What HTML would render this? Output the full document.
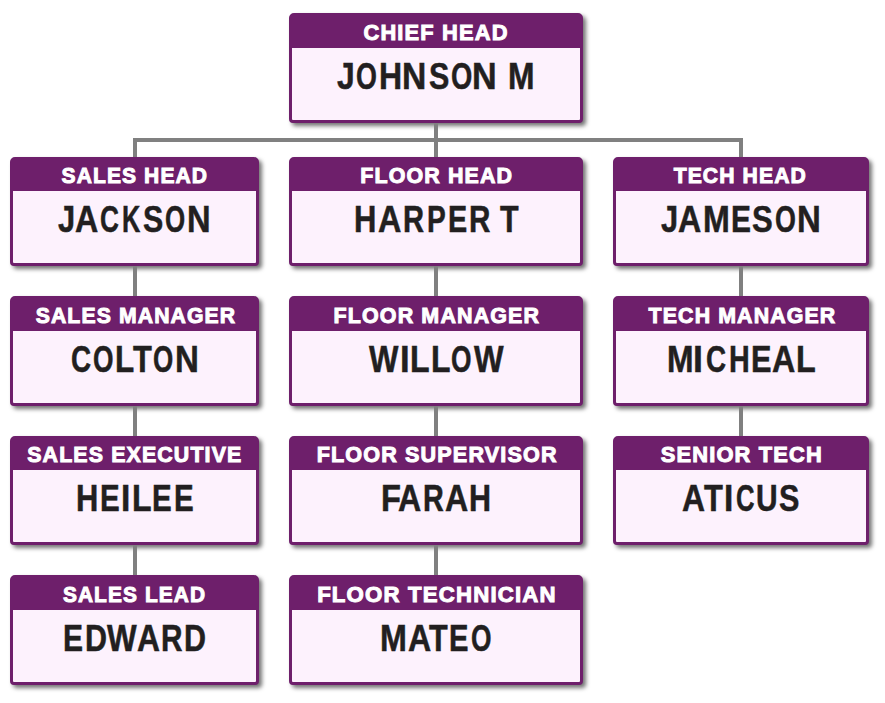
<!DOCTYPE html><html><head><meta charset="utf-8"><style>
html,body{margin:0;padding:0;background:#fff;}
body{width:885px;height:703px;position:relative;overflow:hidden;}
.b{position:absolute;box-sizing:border-box;border:3px solid #6e1f6b;background:#fdf2fd;border-radius:5px 5px 4px 4px;box-shadow:3px 3px 4px rgba(0,0,0,0.55);}
.h{position:absolute;left:0;right:0;top:0;height:32px;background:#6e1f6b;}
.t{position:absolute;left:-100px;right:-100px;text-align:center;white-space:nowrap;font-family:"Liberation Sans",sans-serif;font-weight:bold;}
.t span{display:inline-block;transform-origin:50% 50%;}
.ht{top:5.5px;font-size:22.6px;line-height:22.6px;color:#fff;letter-spacing:1.2px;-webkit-text-stroke:1.0px #fff;}
.nt{top:43.2px;font-size:36.0px;line-height:36.0px;color:#221f20;}
.ln{position:absolute;background:#808080;}
.g{position:absolute;font-family:'Liberation Sans',sans-serif;font-weight:bold;font-size:36.0px;line-height:36.0px;color:#221f20;transform-origin:0 0;white-space:pre;-webkit-text-stroke:0.5px #221f20;}</style></head><body><div class="b" style="left:289px;top:13px;width:294px;height:110px"><div class="h" style="height:31.5px"></div><div class="t ht" style="margin-left:0.5px;margin-top:0px"><span style="transform:scaleX(0.9666)">CHIEF HEAD</span></div></div><div class="b" style="left:10px;top:157px;width:249px;height:109px"><div class="h" style="height:30.799999999999997px"></div><div class="t ht" style="margin-left:1.5px;margin-top:-0.5px"><span style="transform:scaleX(0.9302)">SALES HEAD</span></div></div><div class="b" style="left:289px;top:157px;width:294px;height:109px"><div class="h" style="height:30.799999999999997px"></div><div class="t ht" style="margin-left:0.5px;margin-top:-0.5px"><span style="transform:scaleX(0.9478)">FLOOR HEAD</span></div></div><div class="b" style="left:613px;top:157px;width:256px;height:109px"><div class="h" style="height:30.799999999999997px"></div><div class="t ht" style="margin-left:-0.5px;margin-top:-0.5px"><span style="transform:scaleX(0.9351)">TECH HEAD</span></div></div><div class="b" style="left:10px;top:296px;width:249px;height:110px"><div class="h" style="height:31.5px"></div><div class="t ht" style="margin-left:2.5px;margin-top:0px"><span style="transform:scaleX(0.938)">SALES MANAGER</span></div></div><div class="b" style="left:289px;top:296px;width:294px;height:110px"><div class="h" style="height:31.5px"></div><div class="t ht" style="margin-left:1.0px;margin-top:0px"><span style="transform:scaleX(0.9493)">FLOOR MANAGER</span></div></div><div class="b" style="left:613px;top:296px;width:256px;height:110px"><div class="h" style="height:31.5px"></div><div class="t ht" style="margin-left:2.5px;margin-top:0px"><span style="transform:scaleX(0.944)">TECH MANAGER</span></div></div><div class="b" style="left:10px;top:436px;width:249px;height:109px"><div class="h" style="height:30.5px"></div><div class="t ht" style="margin-left:1.5px;margin-top:-0.5px"><span style="transform:scaleX(0.9453)">SALES EXECUTIVE</span></div></div><div class="b" style="left:289px;top:436px;width:294px;height:109px"><div class="h" style="height:30.5px"></div><div class="t ht" style="margin-left:2.0px;margin-top:-0.5px"><span style="transform:scaleX(0.9554)">FLOOR SUPERVISOR</span></div></div><div class="b" style="left:613px;top:436px;width:256px;height:109px"><div class="h" style="height:30.5px"></div><div class="t ht" style="margin-left:1.0px;margin-top:-0.5px"><span style="transform:scaleX(0.9678)">SENIOR TECH</span></div></div><div class="b" style="left:10px;top:575px;width:249px;height:110px"><div class="h" style="height:31.5px"></div><div class="t ht" style="margin-left:1.0px;margin-top:0px"><span style="transform:scaleX(0.9238)">SALES LEAD</span></div></div><div class="b" style="left:289px;top:575px;width:294px;height:110px"><div class="h" style="height:31.5px"></div><div class="t ht" style="margin-left:1.0px;margin-top:0px"><span style="transform:scaleX(0.9825)">FLOOR TECHNICIAN</span></div></div><span class="g" style="left:337.15px;top:59.2px;transform:scale(0.8835,1)">J</span><span class="g" style="left:356.17px;top:59.2px;transform:scale(0.7459,1)">O</span><span class="g" style="left:378.56px;top:59.2px;transform:scale(0.8883,1)">H</span><span class="g" style="left:401.95px;top:59.2px;transform:scale(0.9348,1)">N</span><span class="g" style="left:428.70px;top:59.2px;transform:scale(0.8457,1)">S</span><span class="g" style="left:450.67px;top:59.2px;transform:scale(0.7600,1)">O</span><span class="g" style="left:472.12px;top:59.2px;transform:scale(0.9487,1)">N</span><span class="g" style="left:507.64px;top:59.2px;transform:scale(0.8841,1)">M</span><span class="g" style="left:58.30px;top:202.2px;transform:scale(0.8562,1)">J</span><span class="g" style="left:75.24px;top:202.2px;transform:scale(0.8945,1)">A</span><span class="g" style="left:100.06px;top:202.2px;transform:scale(0.7278,1)">C</span><span class="g" style="left:122.18px;top:202.2px;transform:scale(0.7040,1)">K</span><span class="g" style="left:142.88px;top:202.2px;transform:scale(0.8430,1)">S</span><span class="g" style="left:165.18px;top:202.2px;transform:scale(0.7200,1)">O</span><span class="g" style="left:186.71px;top:202.2px;transform:scale(0.9071,1)">N</span><span class="g" style="left:354.32px;top:202.2px;transform:scale(0.8606,1)">H</span><span class="g" style="left:377.98px;top:202.2px;transform:scale(0.8994,1)">A</span><span class="g" style="left:402.61px;top:202.2px;transform:scale(0.8095,1)">R</span><span class="g" style="left:426.61px;top:202.2px;transform:scale(0.7808,1)">P</span><span class="g" style="left:447.81px;top:202.2px;transform:scale(0.7989,1)">E</span><span class="g" style="left:468.78px;top:202.2px;transform:scale(0.8223,1)">R</span><span class="g" style="left:500.34px;top:202.2px;transform:scale(0.8468,1)">T</span><span class="g" style="left:661.40px;top:202.2px;transform:scale(0.8562,1)">J</span><span class="g" style="left:678.44px;top:202.2px;transform:scale(0.8945,1)">A</span><span class="g" style="left:702.60px;top:202.2px;transform:scale(0.8935,1)">M</span><span class="g" style="left:731.06px;top:202.2px;transform:scale(0.8308,1)">E</span><span class="g" style="left:752.41px;top:202.2px;transform:scale(0.8620,1)">S</span><span class="g" style="left:775.17px;top:202.2px;transform:scale(0.7459,1)">O</span><span class="g" style="left:796.55px;top:202.2px;transform:scale(0.9155,1)">N</span><span class="g" style="left:71.36px;top:342.2px;transform:scale(0.7727,1)">C</span><span class="g" style="left:93.37px;top:342.2px;transform:scale(0.7318,1)">O</span><span class="g" style="left:115.23px;top:342.2px;transform:scale(0.8735,1)">L</span><span class="g" style="left:133.10px;top:342.2px;transform:scale(0.8551,1)">T</span><span class="g" style="left:153.10px;top:342.2px;transform:scale(0.7224,1)">O</span><span class="g" style="left:174.67px;top:342.2px;transform:scale(0.9182,1)">N</span><span class="g" style="left:369.04px;top:342.2px;transform:scale(0.8658,1)">W</span><span class="g" style="left:399.53px;top:342.2px;transform:scale(0.9624,1)">I</span><span class="g" style="left:410.29px;top:342.2px;transform:scale(0.8893,1)">L</span><span class="g" style="left:431.28px;top:342.2px;transform:scale(0.8861,1)">L</span><span class="g" style="left:451.17px;top:342.2px;transform:scale(0.7318,1)">O</span><span class="g" style="left:473.50px;top:342.2px;transform:scale(0.8710,1)">W</span><span class="g" style="left:666.84px;top:342.2px;transform:scale(0.8841,1)">M</span><span class="g" style="left:693.43px;top:342.2px;transform:scale(0.9940,1)">I</span><span class="g" style="left:705.56px;top:342.2px;transform:scale(0.7727,1)">C</span><span class="g" style="left:728.59px;top:342.2px;transform:scale(0.7969,1)">H</span><span class="g" style="left:750.57px;top:342.2px;transform:scale(0.8540,1)">E</span><span class="g" style="left:771.54px;top:342.2px;transform:scale(0.8945,1)">A</span><span class="g" style="left:796.02px;top:342.2px;transform:scale(0.8956,1)">L</span><span class="g" style="left:75.70px;top:481.2px;transform:scale(0.8579,1)">H</span><span class="g" style="left:100.30px;top:481.2px;transform:scale(0.8192,1)">E</span><span class="g" style="left:121.34px;top:481.2px;transform:scale(0.9307,1)">I</span><span class="g" style="left:131.89px;top:481.2px;transform:scale(0.8893,1)">L</span><span class="g" style="left:152.20px;top:481.2px;transform:scale(0.8192,1)">E</span><span class="g" style="left:174.30px;top:481.2px;transform:scale(0.8192,1)">E</span><span class="g" style="left:380.74px;top:481.2px;transform:scale(0.9066,1)">F</span><span class="g" style="left:398.42px;top:481.2px;transform:scale(0.8921,1)">A</span><span class="g" style="left:423.25px;top:481.2px;transform:scale(0.7992,1)">R</span><span class="g" style="left:444.62px;top:481.2px;transform:scale(0.8921,1)">A</span><span class="g" style="left:468.75px;top:481.2px;transform:scale(0.8468,1)">H</span><span class="g" style="left:682.47px;top:481.2px;transform:scale(0.8848,1)">A</span><span class="g" style="left:704.01px;top:481.2px;transform:scale(0.8579,1)">T</span><span class="g" style="left:723.64px;top:481.2px;transform:scale(0.9307,1)">I</span><span class="g" style="left:735.66px;top:481.2px;transform:scale(0.7129,1)">C</span><span class="g" style="left:755.51px;top:481.2px;transform:scale(0.8312,1)">U</span><span class="g" style="left:778.82px;top:481.2px;transform:scale(0.8484,1)">S</span><span class="g" style="left:63.37px;top:621.2px;transform:scale(0.8337,1)">E</span><span class="g" style="left:85.27px;top:621.2px;transform:scale(0.8463,1)">D</span><span class="g" style="left:107.22px;top:621.2px;transform:scale(0.8728,1)">W</span><span class="g" style="left:136.85px;top:621.2px;transform:scale(0.8824,1)">A</span><span class="g" style="left:160.81px;top:621.2px;transform:scale(0.8275,1)">R</span><span class="g" style="left:184.37px;top:621.2px;transform:scale(0.8463,1)">D</span><span class="g" style="left:380.22px;top:621.2px;transform:scale(0.8958,1)">M</span><span class="g" style="left:407.62px;top:621.2px;transform:scale(0.8921,1)">A</span><span class="g" style="left:429.06px;top:621.2px;transform:scale(0.8496,1)">T</span><span class="g" style="left:449.46px;top:621.2px;transform:scale(0.8105,1)">E</span><span class="g" style="left:471.07px;top:621.2px;transform:scale(0.7318,1)">O</span><div class="ln" style="left:434px;top:123px;width:4px;height:15px"></div><div class="ln" style="left:133px;top:138px;width:610px;height:4px"></div><div class="ln" style="left:133px;top:138px;width:4px;height:19px"></div><div class="ln" style="left:434px;top:138px;width:4px;height:19px"></div><div class="ln" style="left:739px;top:138px;width:4px;height:19px"></div><div class="ln" style="left:133px;top:266px;width:4px;height:30px"></div><div class="ln" style="left:133px;top:406px;width:4px;height:30px"></div><div class="ln" style="left:133px;top:545px;width:4px;height:30px"></div><div class="ln" style="left:434px;top:266px;width:4px;height:30px"></div><div class="ln" style="left:434px;top:406px;width:4px;height:30px"></div><div class="ln" style="left:434px;top:545px;width:4px;height:30px"></div><div class="ln" style="left:739px;top:266px;width:4px;height:30px"></div><div class="ln" style="left:739px;top:406px;width:4px;height:30px"></div></body></html>
